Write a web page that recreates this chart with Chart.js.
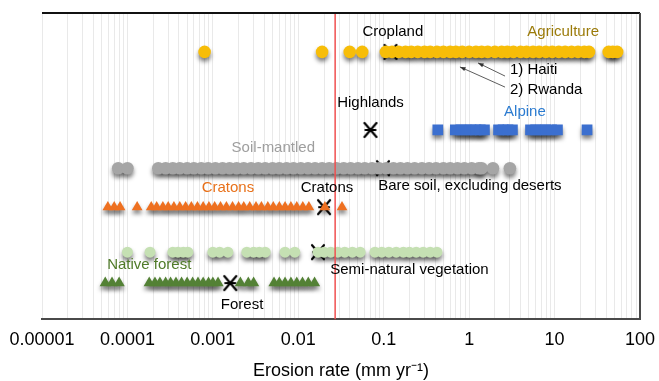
<!DOCTYPE html>
<html>
<head>
<meta charset="utf-8">
<script src="https://cdn.jsdelivr.net/npm/chart.js@4"></script>
<style>
html, body { margin: 0; padding: 0; background: #fff; }
</style>
</head>
<body>
<canvas id="chart" width="659" height="381"></canvas>
<script>
// erosion rates in mm/yr, one array per land class
const agricultureRates = [0.0008, 0.019, 0.04, 0.056, 0.106, 0.125, 0.15, 0.18, 0.21, 0.25, 0.3, 0.35, 0.42, 0.5, 0.6, 0.7, 0.83, 1.0, 1.2, 1.4, 1.65, 2.0, 2.4, 2.8, 3.3, 4.0, 4.7, 5.6, 6.6, 7.9, 9.4, 11.2, 13.3, 15.8, 18.8, 22.3, 25.3, 43, 48, 54];
const alpineRates = [0.43, 0.69, 0.8, 0.92, 1.05, 1.2, 1.35, 1.51, 2.21, 2.5, 2.85, 3.21, 5.23, 6.0, 6.9, 7.9, 9.2, 10.8, 24];
const soilRates = [0.000078, 0.0001, 0.00023, 0.00028, 0.00034, 0.00041, 0.0005, 0.0006, 0.00073, 0.00088, 0.00107, 0.0013, 0.00157, 0.0019, 0.0023, 0.0028, 0.0034, 0.0041, 0.005, 0.006, 0.0073, 0.0088, 0.0107, 0.013, 0.0157, 0.019, 0.023, 0.028, 0.034, 0.041, 0.05, 0.06, 0.073, 0.088, 0.107, 0.13, 0.157, 0.19, 0.23, 0.28, 0.34, 0.41, 0.5, 0.6, 0.73, 0.88, 1.07, 1.3, 1.4, 1.9, 3.0];
const cratonRates = [0.000059, 0.00007, 0.000082, 0.00013, 0.00019, 0.00022, 0.00026, 0.0003, 0.00035, 0.00041, 0.00048, 0.00056, 0.00066, 0.00077, 0.0009, 0.00105, 0.00123, 0.00144, 0.0017, 0.002, 0.0023, 0.0027, 0.0032, 0.0037, 0.0044, 0.0051, 0.006, 0.007, 0.0082, 0.0096, 0.0113, 0.0133, 0.0205, 0.0325];
const seminaturalRates = [0.0001, 0.000184, 0.00034, 0.00039, 0.00045, 0.00051, 0.001, 0.0012, 0.0015, 0.0025, 0.003, 0.0035, 0.0041, 0.007, 0.0091, 0.017, 0.02, 0.024, 0.029, 0.035, 0.043, 0.053, 0.079, 0.095, 0.115, 0.14, 0.17, 0.2, 0.24, 0.29, 0.35, 0.42];
const forestRates = [0.000055, 0.000066, 0.00008, 0.00018, 0.00021, 0.00024, 0.00028, 0.00032, 0.00037, 0.00043, 0.0005, 0.00058, 0.00067, 0.00077, 0.00089, 0.001, 0.00115, 0.0021, 0.0026, 0.003, 0.0052, 0.006, 0.007, 0.0082, 0.0096, 0.0112, 0.0131, 0.0155];

// highlighted countries on the agriculture row
const countryNames = ['Haiti', 'Rwanda'];
const countryRates = [0.97, 0.68];

// medians (the X marks)
const medianNames = ['Cropland', 'Highlands', 'Bare soil, excluding deserts', 'Cratons', 'Semi-natural vegetation', 'Forest'];
const medianRates = [0.12, 0.07, 0.098, 0.02, 0.017, 0.0016];
const medianRows = ['agriculture', 'alpine', 'soil', 'cratons', 'seminatural', 'forest'];

// reference line
const redLineRate = 0.027;

// axis ticks
const tickValues = [0.00001, 0.0001, 0.001, 0.01, 0.1, 1, 10, 100];
const tickLabels = ['0.00001', '0.0001', '0.001', '0.01', '0.1', '1', '10', '100'];

// vertical level of each row (hidden y axis, 0-100)
const rowLevel = {
    agriculture: 87.3,
    alpine: 61.8,
    soil: 49.3,
    cratons: 36.6,
    seminatural: 21.9,
    forest: 11.8
};

const FONT = '"Liberation Sans", Arial, sans-serif';

// minor grid: 1..9 x each decade
const gridValues = [];
for (let e = -5; e <= 1; e++) {
    for (let m = 1; m <= 9; m++) {
        gridValues.push(Number((m * Math.pow(10, e)).toPrecision(3)));
    }
}
gridValues.push(100);

const toPoints = (rates, row) => rates.map(v => ({ x: v, y: rowLevel[row] }));

// X marker with a horizontal bar
const medianMark = document.createElement('canvas');
medianMark.width = 16;
medianMark.height = 18;
(() => {
    const c = medianMark.getContext('2d');
    c.strokeStyle = '#000';
    c.lineWidth = 2.2;
    c.lineCap = 'round';
    c.beginPath();
    c.moveTo(2, 2); c.lineTo(14, 16);
    c.moveTo(14, 2); c.lineTo(2, 16);
    c.moveTo(3, 9); c.lineTo(13, 9);
    c.stroke();
})();

// text labels placed in data space
const annotations = [
    { text: 'Cropland', x: 0.128, y: 93.8, color: '#000' },
    { text: 'Agriculture', x: 12.6, y: 93.8, color: '#9b7b0a' },
    { text: '1) Haiti', x: 3.0, y: 81.4, color: '#000', align: 'left' },
    { text: '2) Rwanda', x: 3.0, y: 74.8, color: '#000', align: 'left' },
    { text: 'Highlands', x: 0.07, y: 70.6, color: '#000' },
    { text: 'Alpine', x: 4.5, y: 67.6, color: '#2b7bd0' },
    { text: 'Soil-mantled', x: 0.0051, y: 55.9, color: '#9e9e9e' },
    { text: 'Bare soil, excluding deserts', x: 1.02, y: 43.5, color: '#000' },
    { text: 'Cratons', x: 0.0015, y: 42.8, color: '#e8711a' },
    { text: 'Cratons', x: 0.0217, y: 42.8, color: '#000' },
    { text: 'Native forest', x: 0.00018, y: 17.6, color: '#4f7a28' },
    { text: 'Semi-natural vegetation', x: 0.2, y: 16.0, color: '#000' },
    { text: 'Forest', x: 0.0022, y: 4.6, color: '#000' }
];
const arrows = [
    { from: [2.63, 79.4], to: [1.27, 83.7] },
    { from: [2.63, 75.8], to: [0.78, 82.4] }
];

const shapePath = (ctx, style, r, x, y) => {
    ctx.beginPath();
    if (style === 'rect') {
        const s = r * Math.SQRT1_2;
        ctx.rect(x - s, y - s, 2 * s, 2 * s);
    } else if (style === 'triangle') {
        ctx.moveTo(x, y - r);
        ctx.lineTo(x + r * 0.866, y + r / 2);
        ctx.lineTo(x - r * 0.866, y + r / 2);
        ctx.closePath();
    } else {
        ctx.arc(x, y, r, 0, Math.PI * 2);
    }
};

const shadowPlugin = {
    id: 'shadows',
    beforeDatasetsDraw(chart) {
        const ctx = chart.ctx;
        ctx.save();
        ctx.filter = 'blur(2px)';
        ctx.fillStyle = 'rgba(0,0,0,0.5)';
        chart.data.datasets.forEach((ds, i) => {
            if (!ds.shadow) return;
            chart.getDatasetMeta(i).data.forEach(pt => {
                shapePath(ctx, ds.pointStyle, ds.pointRadius, pt.x, pt.y + 3.5);
                ctx.fill();
            });
        });
        ctx.restore();
    }
};

const overlayPlugin = {
    id: 'overlay',
    afterDatasetsDraw(chart) {
        const ctx = chart.ctx;
        const xs = chart.scales.x, ys = chart.scales.y;
        const area = chart.chartArea;
        ctx.save();
        ctx.filter = 'none';
        // red line
        const rx = xs.getPixelForValue(redLineRate);
        ctx.strokeStyle = '#f05050';
        ctx.lineWidth = 1.5;
        ctx.beginPath();
        ctx.moveTo(rx, area.top);
        ctx.lineTo(rx, area.bottom);
        ctx.stroke();
        // top and right frame
        ctx.strokeStyle = '#111';
        ctx.lineWidth = 2;
        ctx.beginPath();
        ctx.moveTo(area.left, area.top);
        ctx.lineTo(area.right, area.top);
        ctx.stroke();
        ctx.strokeStyle = '#4a4a4a';
        ctx.beginPath();
        ctx.moveTo(area.right, area.top);
        ctx.lineTo(area.right, area.bottom);
        ctx.stroke();
        // arrows
        ctx.strokeStyle = '#333';
        ctx.fillStyle = '#333';
        ctx.lineWidth = 0.8;
        arrows.forEach(a => {
            const x1 = xs.getPixelForValue(a.from[0]), y1 = ys.getPixelForValue(a.from[1]);
            const x2 = xs.getPixelForValue(a.to[0]), y2 = ys.getPixelForValue(a.to[1]);
            const ang = Math.atan2(y2 - y1, x2 - x1);
            ctx.beginPath();
            ctx.moveTo(x1, y1);
            ctx.lineTo(x2, y2);
            ctx.stroke();
            ctx.beginPath();
            ctx.moveTo(x2, y2);
            ctx.lineTo(x2 - 6 * Math.cos(ang - 0.35), y2 - 6 * Math.sin(ang - 0.35));
            ctx.lineTo(x2 - 6 * Math.cos(ang + 0.35), y2 - 6 * Math.sin(ang + 0.35));
            ctx.closePath();
            ctx.fill();
        });
        // labels
        ctx.font = '15px ' + FONT;
        ctx.textBaseline = 'middle';
        annotations.forEach(t => {
            ctx.fillStyle = t.color;
            ctx.textAlign = t.align || 'center';
            ctx.fillText(t.text, xs.getPixelForValue(t.x), ys.getPixelForValue(t.y));
        });
        ctx.restore();
    }
};

const datasets = [
    { label: 'Agriculture', data: toPoints(agricultureRates, 'agriculture'), backgroundColor: '#f7bd08', pointStyle: 'circle', pointRadius: 6.3 },
    { label: 'Alpine', data: toPoints(alpineRates, 'alpine'), backgroundColor: '#3b6fcf', pointStyle: 'rect', pointRadius: 7.6 },
    { label: 'Soil-mantled', data: toPoints(soilRates, 'soil'), backgroundColor: '#a5a5a5', pointStyle: 'circle', pointRadius: 6.3 },
    { label: 'Cratons', data: toPoints(cratonRates, 'cratons'), backgroundColor: '#ee7020', pointStyle: 'triangle', pointRadius: 6.2 },
    { label: 'Semi-natural vegetation', data: toPoints(seminaturalRates, 'seminatural'), backgroundColor: '#c5e0b3', pointStyle: 'circle', pointRadius: 5.5 },
    { label: 'Native forest', data: toPoints(forestRates, 'forest'), backgroundColor: '#538135', pointStyle: 'triangle', pointRadius: 6.5 },
    { label: 'Countries', data: toPoints(countryRates, 'agriculture'), backgroundColor: '#c00000', borderColor: '#7a0000', borderWidth: 0.5, pointStyle: 'circle', pointRadius: 4, shadow: false },
    { label: 'Medians', data: medianRates.map((v, i) => ({ x: v, y: rowLevel[medianRows[i]] })), pointStyle: medianMark, pointRadius: 8, shadow: false }
];
datasets.forEach(ds => {
    if (ds.shadow === undefined) ds.shadow = true;
    if (ds.borderWidth === undefined) ds.borderWidth = 0;
    ds.pointHoverRadius = ds.pointRadius;
});

const ctx = document.getElementById('chart').getContext('2d');
const canvasChart = new Chart(ctx, {
    type: 'scatter',
    data: { datasets },
    options: {
        responsive: false,
        animation: false,
        layout: { padding: { left: 42, right: 19, top: 13, bottom: 0 } },
        plugins: {
            legend: { display: false },
            tooltip: { enabled: false }
        },
        scales: {
            x: {
                type: 'logarithmic',
                min: 0.00001,
                max: 100,
                afterBuildTicks: (scale) => {
                    scale.ticks = gridValues.map(v => ({ value: v }));
                },
                afterFit: (scale) => {
                    // the edge labels fit inside the layout padding already
                    scale.paddingLeft = 0;
                    scale.paddingRight = 0;
                },
                ticks: {
                    autoSkip: false,
                    maxRotation: 0,
                    padding: 0,
                    color: '#000',
                    font: { family: FONT, size: 18, lineHeight: 1 },
                    callback: (value) => {
                        const i = tickValues.findIndex(t => Math.abs(Math.log10(t) - Math.log10(value)) < 1e-6);
                        return i >= 0 ? tickLabels[i] : '';
                    }
                },
                grid: { color: '#e9e9e9', drawTicks: true, tickLength: 12, tickColor: 'rgba(0,0,0,0)' },
                border: { display: true, color: '#4a4a4a', width: 2 },
                title: {
                    display: true,
                    text: 'Erosion rate (mm yr⁻¹)',
                    color: '#000',
                    font: { family: FONT, size: 18, lineHeight: 1.1 },
                    padding: { top: 12, bottom: 0 }
                }
            },
            y: { type: 'linear', min: 0, max: 100, display: false }
        }
    },
    plugins: [shadowPlugin, overlayPlugin]
});
</script>
</body>
</html>
